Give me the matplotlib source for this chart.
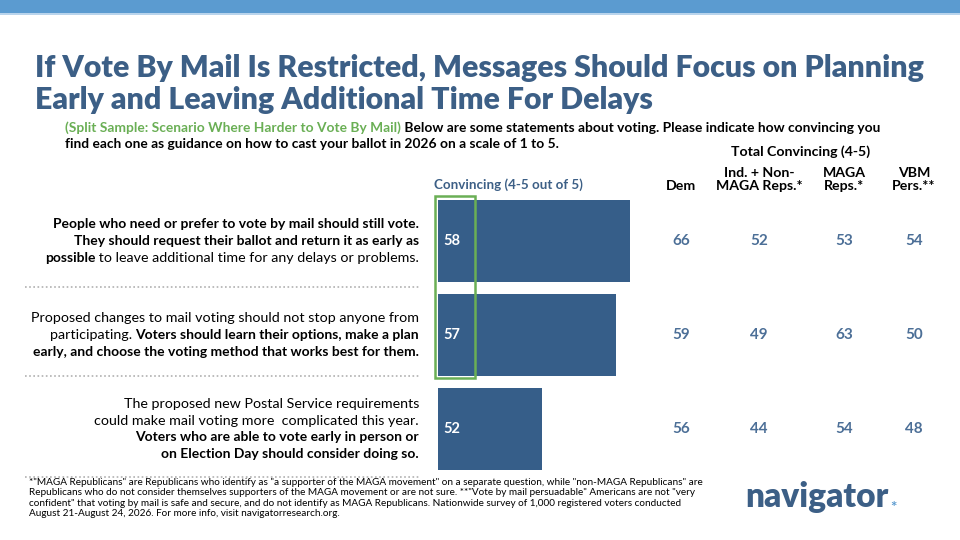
import numpy as np
import matplotlib
matplotlib.use('Agg')
import matplotlib.pyplot as plt
from matplotlib.transforms import blended_transform_factory

plt.rcParams['font.family'] = ['Lato', 'DejaVu Sans']

# data
values = [58, 57, 52]
group_cols = ['Dem', 'Ind. + Non-\nMAGA Reps.*', 'MAGA\nReps.*', 'VBM\nPers.**']
group_vals = [[66, 52, 53, 54],
              [59, 49, 63, 50],
              [56, 44, 54, 48]]
# statement text: lines of (segment, bold?)
labels = [
    [[('People who need or prefer to vote by mail should still vote.', True)],
     [('They should request their ballot and return it as early as', True)],
     [('possible', True), (' to leave additional time for any delays or problems.', False)]],
    [[('Proposed changes to mail voting should not stop anyone from', False)],
     [('participating. ', False), ('Voters should learn their options, make a plan', True)],
     [('early, and choose the voting method that works best for them.', True)]],
    [[('The proposed new Postal Service requirements', False)],
     [('could make mail voting more  complicated this year.', False)],
     [('Voters who are able to vote early in person or', True)],
     [('on Election Day should consider doing so.', True)]],
]

BAR = '#365e89'
NUM = '#4c6f97'
TITLE = '#3c5f86'
GREEN = '#6aaf55'

W, H = 960, 540
fig = plt.figure(figsize=(9.6, 5.4), dpi=100, facecolor='white')


def fx(x):
    return x / W


def fy(y):
    return 1 - y / H


# top band
fig.add_artist(plt.Rectangle((0, fy(13)), 1, 13 / H, transform=fig.transFigure,
                             color='#5b9bd0', lw=0))
fig.add_artist(plt.Rectangle((0, fy(15)), 1, 2 / H, transform=fig.transFigure,
                             color='#b9d4ec', lw=0))

# title
fig.text(fx(35), fy(68), 'If Vote By Mail Is Restricted, Messages Should Focus on Planning',
         fontsize=21.8, fontweight='heavy', color=TITLE, va='center')
fig.text(fx(35), fy(100), 'Early and Leaving Additional Time For Delays',
         fontsize=21.8, fontweight='heavy', color=TITLE, va='center')

renderer = fig.canvas.get_renderer()


def seg_width(s, **kw):
    t1 = fig.text(0, 0, 'x' + s + 'x', **kw)
    t2 = fig.text(0, 0, 'xx', **kw)
    w = t1.get_window_extent(renderer).width - t2.get_window_extent(renderer).width
    t1.remove()
    t2.remove()
    return w


def mixed_line(x, y, segs, ha='left'):
    # segs: list of (text, kwargs incl. fontsize)
    widths = [seg_width(s, **kw) for s, kw in segs]
    total = sum(widths)
    px = x - total if ha == 'right' else x
    for (s, kw), w in zip(segs, widths):
        fig.text(fx(px), fy(y), s, va='center', ha='left', **kw)
        px += w
    return px


# subtitle
mixed_line(65, 128, [('(Split Sample: Scenario Where Harder to Vote By Mail)',
                      dict(color=GREEN, fontweight='bold', fontsize=9.9)),
                     (' Below are some statements about voting. Please indicate how convincing you',
                      dict(color='black', fontweight='bold', fontsize=9.9))])
mixed_line(65, 144, [('find each one as guidance on how to cast your ballot in 2026 on a scale of 1 to 5.',
                      dict(color='black', fontweight='bold', fontsize=9.9))])

# bar axes
ax = fig.add_axes([fx(438), fy(480), 518 / W, 290 / H])
ax.set_xlim(45, 80)
ax.set_ylim(2.5426, -0.5426)
ax.axis('off')
ypos = np.arange(len(values))
ax.barh(ypos, [v - 45 for v in values], left=45, height=0.872, color=BAR)
for yi, v in zip(ypos, values):
    ax.text(45.35, yi, str(v), color='white', fontsize=10.5, fontweight='bold', va='center')

# green highlight box
fig.add_artist(plt.Rectangle((fx(435), fy(378)), 40 / W, 182 / H, transform=fig.transFigure,
                             fill=False, ec=GREEN, lw=1.8))

# column headers
fig.text(fx(508), fy(185), 'Convincing (4-5 out of 5)', color=TITLE, fontsize=9.6,
         fontweight='bold', ha='center', va='center')
fig.text(fx(801), fy(152), 'Total Convincing (4-5)', color='black', fontsize=10.2,
         fontweight='bold', ha='center', va='center')
col_x = [681, 759, 844, 914]
for cx, name in zip(col_x, group_cols):
    fig.text(fx(cx), fy(192), name, color='black', fontsize=10.2, fontweight='bold',
             ha='center', va='bottom', linespacing=1.15)

# group numbers
tr = blended_transform_factory(fig.transFigure, ax.transData)
for yi, row in zip(ypos, group_vals):
    for cx, v in zip(col_x, row):
        ax.text(fx(cx), yi, str(v), transform=tr, color=NUM, fontsize=11,
                fontweight='bold', ha='center', va='center')

# statement labels
line_h = 16.8
for yi, lines in zip(ypos, labels):
    cy = 241 + 94 * yi
    n = len(lines)
    for k, line in enumerate(lines):
        ly = cy + (k - (n - 1) / 2) * line_h
        segs = [(s, dict(color='black', fontweight='bold' if b else 'normal',
                         fontsize=10 if b else 10.25)) for s, b in line]
        mixed_line(419, ly, segs, ha='right')

# dotted separators
for sy in [287, 376, 477]:
    fig.add_artist(plt.Line2D([fx(25), fx(420)], [fy(sy), fy(sy)], transform=fig.transFigure,
                              color='#b0b0b0', lw=1.2, ls=(0, (1, 1.5))))

# footnote
foot = ('*"MAGA Republicans" are Republicans who identify as "a supporter of the MAGA movement" on a separate question, while "non-MAGA Republicans" are\n'
        'Republicans who do not consider themselves supporters of the MAGA movement or are not sure. **"Vote by mail persuadable" Americans are not "very\n'
        'confident" that voting by mail is safe and secure, and do not identify as MAGA Republicans. Nationwide survey of 1,000 registered voters conducted\n'
        'August 21-August 24, 2026. For more info, visit navigatorresearch.org.')
fig.text(fx(29), fy(478), foot, fontsize=7.2, color='black', va='top', linespacing=1.2)

# logo
end = mixed_line(745, 497, [('navigator', dict(fontweight='heavy', color=TITLE, fontsize=24))])
fig.text(fx(end + 5), fy(508), '*', fontsize=11, fontweight='bold', color='#5b9bd0',
         va='center', ha='center')

fig.savefig('out.png', dpi=100, facecolor='white')
